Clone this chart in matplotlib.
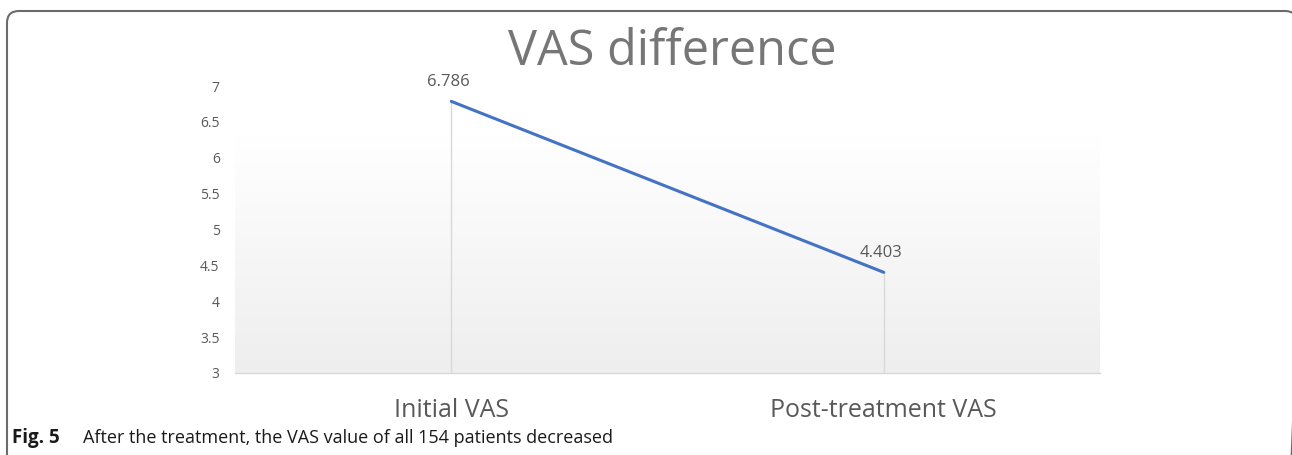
import matplotlib
matplotlib.use("Agg")
import matplotlib.pyplot as plt
import numpy as np
from matplotlib.patches import FancyBboxPatch
from matplotlib.colors import LinearSegmentedColormap

categories = ["Initial VAS", "Post-treatment VAS"]
values = [6.786, 4.403]
value_labels = ["6.786", "4.403"]
yticks = [3, 3.5, 4, 4.5, 5, 5.5, 6, 6.5, 7]
ytick_labels = ["3", "3.5", "4", "4.5", "5", "5.5", "6", "6.5", "7"]
title = "VAS difference"
caption_bold = "Fig. 5"
caption_text = "After the treatment, the VAS value of all 154 patients decreased"

W, H = 1292, 455
plt.rcParams['font.family'] = ['Open Sans', 'DejaVu Sans']
fig = plt.figure(figsize=(W/100, H/100), dpi=100)

# frame drawn in pixel coordinates
bg = fig.add_axes([0, 0, 1, 1])
bg.set_xlim(0, W)
bg.set_ylim(H, 0)
bg.axis("off")
frame = FancyBboxPatch((7, 11), 1297 - 7, 500,
                       boxstyle="round,pad=0,rounding_size=12",
                       fill=False, edgecolor="#6b6b6b", linewidth=1.5)
bg.add_patch(frame)

ax = fig.add_axes([235/W, 1-373/H, (1100-235)/W, (373-86)/H])
ax.set_xlim(-0.5, 1.5)
ax.set_ylim(3, 7)

# gradient background
grad = np.linspace(0, 1, 256).reshape(-1, 1)
cmap = LinearSegmentedColormap.from_list("g", ["#eeeeee", "#ffffff"])
ax.imshow(grad, aspect="auto", cmap=cmap, origin="lower",
          extent=[0, 1, 0, (373-136)/(373-86)],
          transform=ax.transAxes, zorder=0)

x = np.arange(len(categories))
ax.vlines(x, 3, values, color="#d9d9d9", linewidth=1, zorder=1)
ax.plot(x, values, color="#4472c4", linewidth=2.2, zorder=3, solid_capstyle="round")
for xi, v, lab in zip(x, values, value_labels):
    ax.annotate(lab, (xi, v), xytext=(-2, 8), textcoords="offset points",
                ha="center", va="bottom", fontsize=12, color="#595959")

for s in ["top", "right", "left"]:
    ax.spines[s].set_visible(False)
ax.spines["bottom"].set_color("#d9d9d9")
ax.spines["bottom"].set_linewidth(1)

ax.set_yticks(yticks)
ax.set_yticklabels(ytick_labels, fontsize=10, color="#595959")
ax.tick_params(axis="y", length=0, pad=11)
ax.set_xticks(x)
ax.set_xticklabels(categories, fontsize=18, color="#595959")
ax.tick_params(axis="x", length=0, pad=18)
ax.set_facecolor("none")

fig.text(672/W, 1-65/H, title, ha="center", va="baseline", fontsize=35, color="#767676")

fig.text(12/W, 1-438/H, caption_bold, ha="left", va="center", fontsize=13.5,
         fontweight="bold", color="#1a1a1a")
fig.text(83/W, 1-438/H, caption_text, ha="left", va="center", fontsize=13,
         color="#1a1a1a")

fig.savefig("out.png", dpi=100)
